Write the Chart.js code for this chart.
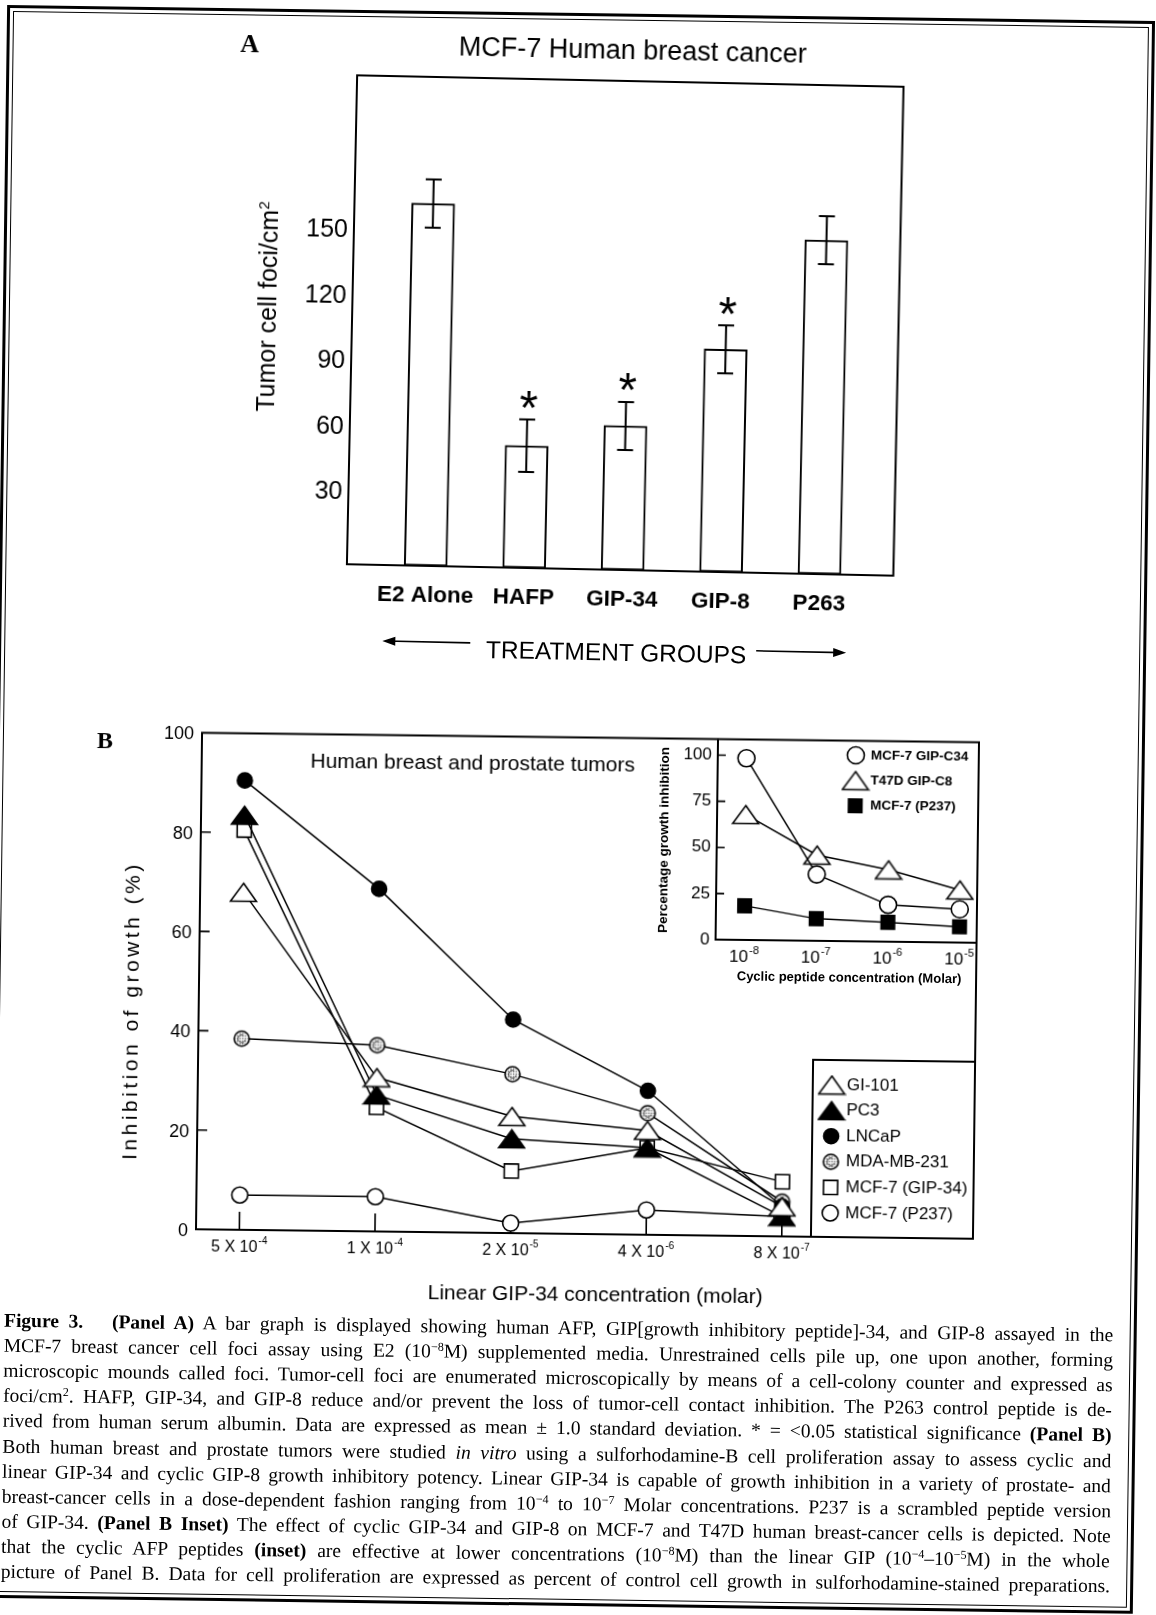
<!DOCTYPE html>
<html><head><meta charset="utf-8">
<script src="https://cdn.jsdelivr.net/npm/chart.js@4.4.1/dist/chart.umd.min.js"></script>
<style>
html,body{margin:0;padding:0;background:#fff;}
#page{position:relative;width:1156px;height:1615px;overflow:hidden;background:#fff;font-family:"Liberation Sans",Arial,sans-serif;color:#000;}
.block{position:absolute;left:0;top:0;width:1156px;height:1615px;}
.t{position:absolute;white-space:nowrap;transform:translate(-50%,-50%);line-height:1;}
.rot{transform:translate(-50%,-50%) rotate(-90deg);}
canvas{position:absolute;}
.cap{position:absolute;left:2.4px;height:25px;line-height:25px;white-space:nowrap;font-family:"Liberation Serif","Times New Roman",serif;font-size:19.5px;}
.cap span{display:inline-block;transform-origin:0 50%;}
.cap sup{font-size:0.62em;vertical-align:0.55em;line-height:0;}
.frm{position:absolute;box-sizing:border-box;}
</style></head>
<body><div id="page">

<div class="block" style="transform-origin:578px 807px;transform:rotate(0.8deg)">
  <div class="frm" style="left:-4px;top:13px;width:1148px;height:1593px;border:3px solid #000"></div>
  <div class="frm" style="left:2px;top:19px;width:1136px;height:1581px;border:1.5px solid #000"></div>
</div>

<div class="block" id="blockA" style="transform-origin:625px 324px;transform:rotate(1.2deg)">
  <canvas id="chartA" width="700" height="600" style="left:230px;top:60px"></canvas>
  <div class="t" style="left:244px;top:52px;font:bold 26px 'Liberation Serif',serif">A</div>
  <div class="t" style="left:627px;top:50px;font-size:27px">MCF-7 Human breast cancer</div>
  <div class="t rot" style="left:267px;top:314px;font-size:25px">Tumor cell foci/cm<sup style="font-size:15px">2</sup></div>
  <div class="t" style="left:623px;top:653px;font-size:24.5px">TREATMENT GROUPS</div>
  <svg width="1156" height="700" style="position:absolute;left:0;top:0">
    <line x1="393" y1="646" x2="477" y2="646" stroke="#000" stroke-width="1.6"/>
    <polygon points="389,646 402,641.5 402,650.5" fill="#000"/>
    <line x1="763" y1="648" x2="849" y2="648" stroke="#000" stroke-width="1.6"/>
    <polygon points="853,648 840,643.5 840,652.5" fill="#000"/>
  </svg>
</div>

<div class="block" id="blockB" style="transform-origin:585px 985px;transform:rotate(0.7deg)">
  <canvas id="chartB" width="940" height="620" style="left:60px;top:700px"></canvas>
  <canvas id="chartInset" width="370" height="270" style="left:620px;top:720px"></canvas>
  <div class="t" style="left:102px;top:746px;font:bold 24px 'Liberation Serif',serif">B</div>
  <div class="t" style="left:470px;top:763px;font-size:21px">Human breast and prostate tumors</div>
  <div class="t rot" style="left:131px;top:1016px;font-size:21px;letter-spacing:3.5px">Inhibition of growth (%)</div>
  <div class="t" style="left:599px;top:1293px;font-size:21px">Linear GIP-34 concentration (molar)</div>
  <div class="t rot" style="left:662px;top:839px;font-size:13.5px;font-weight:bold">Percentage growth inhibition</div>
  <div class="t" style="left:849px;top:974px;font-size:13px;font-weight:bold">Cyclic peptide concentration (Molar)</div>
</div>

<div class="block" id="capBlock" style="transform-origin:556px 1455px;transform:rotate(0.75deg)"></div>

</div>
<script>
// ---------------- Panel A data ----------------
const groupsA = ['E2 Alone', 'HAFP', 'GIP-34', 'GIP-8', 'P263'];
const fociMean = [166, 56, 66, 102, 153];
const fociSD = [11, 12, 11, 11, 11];
const significant = [false, true, true, true, false];
const yTicksA = [30, 60, 90, 120, 150];

// ---------------- Panel B (main) data ----------------
const concBase = ['5 X 10', '1 X 10', '2 X 10', '4 X 10', '8 X 10'];
const concExp = ['-4', '-4', '-5', '-6', '-7'];
const gi101 = [68, 31, 23.5, 21, 6];
const pc3 = [83.5, 27.5, 19, 17.5, 4];
const lncap = [90.5, 69, 43, 29, 6];
const mdamb231 = [38.5, 37.5, 32, 24.5, 7];
const mcf7Gip34 = [80.5, 25, 12.5, 17.5, 11];
const mcf7P237 = [7, 7, 2, 5, 4];
const yTicksB = [0, 20, 40, 60, 80, 100];

// ---------------- Panel B inset data ----------------
const cyclicExp = ['-8', '-7', '-6', '-5'];
const mcf7GipC34 = [98.5, 36, 20, 18];
const t47dGipC8 = [68, 46.5, 39, 28.5];
const mcf7P237cyc = [18.5, 12, 10.5, 8.5];
const yTicksInset = [0, 25, 50, 75, 100];

// ---------------- helpers ----------------
const pts = arr => arr.map((y, i) => ({ x: i, y }));
const SANS = 'Liberation Sans';

function triCanvas(w, h, fill) {
  const c = document.createElement('canvas');
  c.width = w + 3; c.height = h + 3;
  const g = c.getContext('2d');
  g.beginPath();
  g.moveTo(c.width / 2, 1.5); g.lineTo(w + 1.5, h + 1.5); g.lineTo(1.5, h + 1.5); g.closePath();
  g.fillStyle = fill; g.fill();
  g.lineWidth = 1.6; g.strokeStyle = '#000'; g.stroke();
  return c;
}
function stippleCanvas(r) {
  const s = Math.ceil(2 * r + 4);
  const c = document.createElement('canvas'); c.width = s; c.height = s;
  const g = c.getContext('2d'); const cx = s / 2, cy = s / 2;
  g.beginPath(); g.arc(cx, cy, r, 0, Math.PI * 2); g.fillStyle = '#fff'; g.fill();
  g.save(); g.beginPath(); g.arc(cx, cy, r - 1, 0, Math.PI * 2); g.clip();
  g.fillStyle = '#444';
  for (let yy = 1; yy < s; yy += 2.6) for (let xx = ((yy * 10) % 2.6); xx < s; xx += 2.6) { g.fillRect(xx, yy, 1.2, 1.2); }
  g.strokeStyle = '#222'; g.lineWidth = 0.9;
  g.beginPath(); g.arc(cx, cy, r * 0.5, 0.3, 5.2); g.stroke();
  g.restore();
  g.beginPath(); g.arc(cx, cy, r, 0, Math.PI * 2); g.lineWidth = 1.6; g.strokeStyle = '#000'; g.stroke();
  return c;
}
function drawSymbol(ctx, ds, x, y) {
  const st = ds.pointStyle;
  if (st instanceof HTMLCanvasElement) { ctx.drawImage(st, x - st.width / 2, y - st.height / 2); return; }
  ctx.save(); ctx.beginPath();
  ctx.lineWidth = ds.pointBorderWidth; ctx.strokeStyle = '#000'; ctx.fillStyle = ds.pointBackgroundColor;
  const r = ds.pointRadius;
  if (st === 'circle') ctx.arc(x, y, r, 0, Math.PI * 2);
  else { const s = r * Math.SQRT1_2; ctx.rect(x - s, y - s, 2 * s, 2 * s); }
  ctx.fill(); ctx.stroke(); ctx.restore();
}
function drawAsterisk(ctx, x, y, h) {
  ctx.save();
  ctx.font = '100px "' + SANS + '"';
  let m = ctx.measureText('*');
  const size = 100 * h / (m.actualBoundingBoxAscent + m.actualBoundingBoxDescent);
  ctx.font = size + 'px "' + SANS + '"';
  m = ctx.measureText('*');
  ctx.textAlign = 'left'; ctx.textBaseline = 'alphabetic'; ctx.fillStyle = '#000';
  const x0 = x - (m.actualBoundingBoxRight - m.actualBoundingBoxLeft) / 2;
  const yb = y + (m.actualBoundingBoxAscent - m.actualBoundingBoxDescent) / 2;
  ctx.fillText('*', x0, yb);
  ctx.restore();
}
function expLabels(id, bases, exps, o) {
  return { id, afterDraw(chart) {
    const ctx = chart.ctx, xs = chart.scales.x, yy = chart.chartArea.bottom + o.dy;
    ctx.save(); ctx.fillStyle = '#000'; ctx.textBaseline = 'middle'; ctx.textAlign = 'left';
    bases.forEach((b, i) => {
      ctx.font = o.font; const wb = ctx.measureText(b).width;
      ctx.font = o.expFont; const we = ctx.measureText(exps[i]).width;
      const x0 = xs.getPixelForValue(i) - (wb + we + 1) / 2;
      ctx.font = o.font; ctx.fillText(b, x0, yy);
      ctx.font = o.expFont; ctx.fillText(exps[i], x0 + wb + 1, yy - o.raise);
    });
    ctx.restore();
  } };
}
const baseOpts = { responsive: false, animation: false, events: [],
  plugins: { legend: { display: false }, tooltip: { enabled: false } } };

// ---------------- Chart A ----------------
const frameA = { id: 'frameA', afterDraw(chart) {
  const { ctx, chartArea: a } = chart; ctx.save(); ctx.lineWidth = 2; ctx.strokeStyle = '#000';
  ctx.strokeRect(a.left, a.top, a.right - a.left, a.bottom - a.top); ctx.restore(); } };
const errA = { id: 'errA', afterDatasetsDraw(chart) {
  const { ctx, scales: { x, y } } = chart; ctx.save(); ctx.strokeStyle = '#000'; ctx.lineWidth = 2;
  fociMean.forEach((m, i) => {
    const px = x.getPixelForValue(i), t = y.getPixelForValue(m + fociSD[i]), b = y.getPixelForValue(m - fociSD[i]);
    ctx.beginPath(); ctx.moveTo(px, t); ctx.lineTo(px, b);
    ctx.moveTo(px - 8, t); ctx.lineTo(px + 8, t); ctx.moveTo(px - 8, b); ctx.lineTo(px + 8, b); ctx.stroke();
    if (significant[i]) drawAsterisk(ctx, px + 1, t - 20, 17);
  });
  ctx.restore(); } };

new Chart(document.getElementById('chartA'), {
  type: 'bar',
  data: { datasets: [{ data: pts(fociMean), backgroundColor: '#fff', borderColor: '#000', borderWidth: 2,
    borderSkipped: false, barThickness: 43 }] },
  options: Object.assign({}, baseOpts, {
    layout: { padding: { top: 18, right: 31.5, left: 0, bottom: 0 } },
    scales: {
      x: { type: 'linear', offset: false, min: -0.8, max: 4.75, grid: { display: false, drawTicks: false, offset: false }, border: { display: false },
        afterBuildTicks: a => { a.ticks = groupsA.map((_, i) => ({ value: i })); },
        afterFit: s => { s.height = 90; },
        ticks: { autoSkip: false, maxRotation: 0, padding: 16, color: '#000',
          font: { family: SANS, size: 22.5, weight: 'bold' }, callback: v => groupsA[v] } },
      y: { min: 0, max: 224, grid: { display: false, drawTicks: false }, border: { display: false },
        afterBuildTicks: a => { a.ticks = yTicksA.map(v => ({ value: v })); },
        afterFit: s => { s.width = 122; },
        ticks: { padding: 6, labelOffset: -6, color: '#000', font: { family: SANS, size: 25 } } }
    }
  }),
  plugins: [errA, frameA]
});

// ---------------- Chart B main ----------------
const seriesB = [
  { label: 'GI-101', data: gi101 },
  { label: 'PC3', data: pc3 },
  { label: 'LNCaP', data: lncap },
  { label: 'MDA-MB-231', data: mdamb231 },
  { label: 'MCF-7 (GIP-34)', data: mcf7Gip34 },
  { label: 'MCF-7 (P237)', data: mcf7P237 }
];
const stylesB = [
  { pointStyle: triCanvas(26, 18, '#fff'), pointRadius: 10, pointBackgroundColor: '#fff' },
  { pointStyle: triCanvas(26, 18, '#000'), pointRadius: 10, pointBackgroundColor: '#000' },
  { pointStyle: 'circle', pointRadius: 7.5, pointBackgroundColor: '#000' },
  { pointStyle: stippleCanvas(7.5), pointRadius: 8, pointBackgroundColor: '#fff' },
  { pointStyle: 'rect', pointRadius: 10, pointBackgroundColor: '#fff' },
  { pointStyle: 'circle', pointRadius: 8, pointBackgroundColor: '#fff' }
];
const ticksB = { id: 'ticksB', beforeDatasetsDraw(chart) {
  const { ctx, chartArea: a, scales: { x, y } } = chart; ctx.save(); ctx.strokeStyle = '#000'; ctx.lineWidth = 1.6;
  ctx.beginPath();
  yTicksB.forEach(v => { if (v <= y.min || v >= y.max) return; const py = y.getPixelForValue(v); ctx.moveTo(a.left, py); ctx.lineTo(a.left + 10, py); });
  concBase.forEach((_, i) => { const px = x.getPixelForValue(i); ctx.moveTo(px, a.bottom); ctx.lineTo(px, a.bottom - 18); });
  ctx.stroke(); ctx.restore(); } };
const frameB = { id: 'frameB', afterDraw(chart) {
  const { ctx, chartArea: a } = chart; ctx.save(); ctx.lineWidth = 2; ctx.strokeStyle = '#000';
  ctx.strokeRect(a.left, a.top, a.right - a.left, a.bottom - a.top); ctx.restore(); } };
const legendB = { id: 'legendB', afterDraw(chart) {
  const { ctx, chartArea: a } = chart; const L = a.right - 162, T = a.bottom - 177;
  ctx.save(); ctx.fillStyle = '#fff'; ctx.fillRect(L, T, a.right - L, a.bottom - T);
  ctx.lineWidth = 2; ctx.strokeStyle = '#000'; ctx.strokeRect(L, T, a.right - L, a.bottom - T);
  ctx.font = '17px "' + SANS + '"'; ctx.textBaseline = 'middle'; ctx.textAlign = 'left'; ctx.fillStyle = '#000';
  chart.data.datasets.forEach((ds, i) => {
    const yy = T + 25 + i * 25.6;
    drawSymbol(ctx, ds, L + 19, yy);
    ctx.fillStyle = '#000'; ctx.fillText(ds.label, L + 34, yy);
  });
  ctx.restore(); } };

new Chart(document.getElementById('chartB'), {
  type: 'line',
  data: { datasets: seriesB.map((s, i) => Object.assign({ label: s.label, data: pts(s.data), borderColor: '#000', borderWidth: 1.5,
    pointBorderColor: '#000', pointBorderWidth: 1.6, tension: 0, fill: false, clip: false }, stylesB[i])) },
  options: Object.assign({}, baseOpts, {
    layout: { padding: { top: 37.5, right: 24, left: 0, bottom: 86 } },
    scales: {
      x: { type: 'linear', display: false, min: -0.32, max: 5.41 },
      y: { min: 0, max: 100, grid: { display: false, drawTicks: false }, border: { display: false },
        afterBuildTicks: a => { a.ticks = yTicksB.map(v => ({ value: v })); },
        afterFit: s => { s.width = 139; },
        ticks: { padding: 8, labelOffset: 2, color: '#000', font: { family: SANS, size: 18 } } }
    }
  }),
  plugins: [ticksB, frameB, legendB,
    expLabels('xlabB', concBase, concExp, { dy: 17.5, raise: 6, font: '16px "' + SANS + '"', expFont: '10px "' + SANS + '"' })]
});

// ---------------- Chart B inset ----------------
const seriesInset = [
  { label: 'MCF-7 GIP-C34', data: mcf7GipC34 },
  { label: 'T47D GIP-C8', data: t47dGipC8 },
  { label: 'MCF-7 (P237)', data: mcf7P237cyc }
];
const stylesInset = [
  { pointStyle: 'circle', pointRadius: 8.5, pointBackgroundColor: '#fff' },
  { pointStyle: triCanvas(26, 18, '#fff'), pointRadius: 10, pointBackgroundColor: '#fff' },
  { pointStyle: 'rect', pointRadius: 9.5, pointBackgroundColor: '#000' }
];
const frameInset = { id: 'frameInset', afterDraw(chart) {
  const { ctx, chartArea: a, scales: { y } } = chart; ctx.save(); ctx.lineWidth = 2; ctx.strokeStyle = '#000';
  ctx.beginPath(); ctx.moveTo(a.left, a.top); ctx.lineTo(a.left, a.bottom); ctx.lineTo(a.right, a.bottom); ctx.stroke();
  ctx.lineWidth = 1.6; ctx.beginPath();
  yTicksInset.forEach(v => { if (v <= 0) return; const py = y.getPixelForValue(v); ctx.moveTo(a.left, py); ctx.lineTo(a.left + 8, py); });
  ctx.stroke(); ctx.restore(); } };
const legendInset = { id: 'legendInset', afterDraw(chart) {
  const { ctx, chartArea: a } = chart; ctx.save();
  ctx.font = 'bold 13.5px "' + SANS + '"'; ctx.textBaseline = 'middle'; ctx.textAlign = 'left';
  chart.data.datasets.forEach((ds, i) => {
    const yy = a.top + 14.5 + i * 25.3;
    drawSymbol(ctx, ds, a.right - 123, yy);
    ctx.fillStyle = '#000'; ctx.fillText(ds.label, a.right - 108, yy);
  });
  ctx.restore(); } };

new Chart(document.getElementById('chartInset'), {
  type: 'line',
  data: { datasets: seriesInset.map((s, i) => Object.assign({ label: s.label, data: pts(s.data), borderColor: '#000', borderWidth: 1.5,
    pointBorderColor: '#000', pointBorderWidth: 1.6, tension: 0, fill: false, clip: false }, stylesInset[i])) },
  options: Object.assign({}, baseOpts, {
    layout: { padding: { top: 17.5, right: 14, left: 0, bottom: 52 } },
    scales: {
      x: { type: 'linear', display: false, min: -0.4, max: 3.24 },
      y: { min: 0, max: 108.7, grid: { display: false, drawTicks: false }, border: { display: false },
        afterBuildTicks: a => { a.ticks = yTicksInset.map(v => ({ value: v })); },
        afterFit: s => { s.width = 95; },
        ticks: { padding: 6, color: '#000', font: { family: SANS, size: 17 } } }
    }
  }),
  plugins: [frameInset, legendInset,
    expLabels('xlabInset', cyclicExp.map(() => '10'), cyclicExp, { dy: 17, raise: 6, font: '17px "' + SANS + '"', expFont: '11px "' + SANS + '"' })]
});

// ---------------- Caption ----------------
const captionLines = [
  '<b>Figure 3.</b>&nbsp;&nbsp; <b>(Panel A)</b> A bar graph is displayed showing human AFP, GIP[growth inhibitory peptide]-34, and GIP-8 assayed in the',
  'MCF-7 breast cancer cell foci assay using E2 (10<sup>−8</sup>M) supplemented media. Unrestrained cells pile up, one upon another, forming',
  'microscopic mounds called foci. Tumor-cell foci are enumerated microscopically by means of a cell-colony counter and expressed as',
  'foci/cm<sup>2</sup>. HAFP, GIP-34, and GIP-8 reduce and/or prevent the loss of tumor-cell contact inhibition. The P263 control peptide is de-',
  'rived from human serum albumin. Data are expressed as mean ± 1.0 standard deviation. * = &lt;0.05 statistical significance <b>(Panel B)</b>',
  'Both human breast and prostate tumors were studied <i>in vitro</i> using a sulforhodamine-B cell proliferation assay to assess cyclic and',
  'linear GIP-34 and cyclic GIP-8 growth inhibitory potency. Linear GIP-34 is capable of growth inhibition in a variety of prostate- and',
  'breast-cancer cells in a dose-dependent fashion ranging from 10<sup>−4</sup> to 10<sup>−7</sup> Molar concentrations. P237 is a scrambled peptide version',
  'of GIP-34. <b>(Panel B Inset)</b> The effect of cyclic GIP-34 and GIP-8 on MCF-7 and T47D human breast-cancer cells is depicted. Note',
  'that the cyclic AFP peptides <b>(inset)</b> are effective at lower concentrations (10<sup>−8</sup>M) than the linear GIP (10<sup>−4</sup>–10<sup>−5</sup>M) in the whole',
  'picture of Panel B. Data for cell proliferation are expressed as percent of control cell growth in sulforhodamine-stained preparations.'
];
const capBlock = document.getElementById('capBlock');
const CAP_W = 1109;
captionLines.forEach((html, i) => {
  const d = document.createElement('div'); d.className = 'cap';
  d.style.top = (1327.5 - 12.5 + i * 25.1) + 'px';
  const s = document.createElement('span'); s.innerHTML = html; d.appendChild(s); capBlock.appendChild(d);
  const w = s.offsetWidth;
  if (w > CAP_W) { s.style.transform = 'scaleX(' + (CAP_W / w) + ')'; }
  else {
    const n = (s.textContent.match(/[ \u00a0]/g) || []).length;
    if (n) s.style.wordSpacing = ((CAP_W - w) / n) + 'px';
  }
});
</script>
</body></html>
